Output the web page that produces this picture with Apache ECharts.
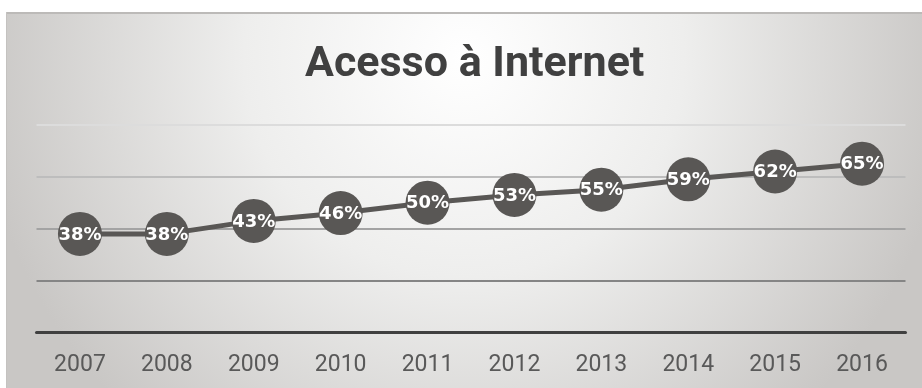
<!DOCTYPE html>
<html>
<head>
<meta charset="utf-8">
<script src="https://cdn.jsdelivr.net/npm/echarts@6/dist/echarts.min.js"></script>
<style>html,body{margin:0;padding:0;background:#fff;}#c{width:922px;height:388px;}</style>
</head>
<body>
<div id="c"></div>
<script>
var titleText = 'Acesso à Internet';
var years = ['2007','2008','2009','2010','2011','2012','2013','2014','2015','2016'];
var access = [38, 38, 43, 46, 50, 53, 55, 59, 62, 65];

var chart = echarts.init(document.getElementById('c'));
chart.setOption({
  animation: false,
  graphic: [
    { type: 'rect', z: -10, shape: { x: 6, y: 12, width: 916, height: 376 },
      style: { fill: { type: 'radial', x: 0.5, y: 0.12, r: 1.3,
        colorStops: [ { offset: 0, color: '#ffffff' }, { offset: 0.45, color: '#eeeeed' }, { offset: 1, color: '#c9c7c5' } ] } } },
    { type: 'rect', z: -9, shape: { x: 6, y: 12, width: 916, height: 2 }, style: { fill: '#bcbab8' } },
    { type: 'rect', z: -9, shape: { x: 6, y: 12, width: 1, height: 376 }, style: { fill: '#c4c2c0' } }
  ],
  title: {
    text: titleText, left: 300, top: 39,
    textStyle: { fontFamily: 'Roboto', fontWeight: 'bold', fontSize: 43, color: '#404040' }
  },
  grid: { left: 36.5, right: 16.5, top: 124.7, bottom: 55.3 },
  xAxis: {
    type: 'category', data: years, boundaryGap: true,
    axisLine: { show: true, lineStyle: { color: '#404040', width: 3 } },
    axisTick: { show: false },
    axisLabel: { margin: 21, fontFamily: 'Roboto', fontSize: 23, color: '#595959' }
  },
  yAxis: {
    type: 'value', min: 0, max: 80, interval: 20,
    axisLine: { show: false }, axisTick: { show: false }, axisLabel: { show: false },
    splitLine: { lineStyle: { width: 2, color: ['#7f7f7f', '#858585', '#a3a3a3', '#bdbdbd', '#dcdcdc'] } }
  },
  series: [{
    type: 'line', data: access,
    symbol: 'circle', symbolSize: 44,
    lineStyle: { color: '#595755', width: 5 },
    itemStyle: { color: '#595755' },
    label: { show: true, position: 'inside', formatter: '{c}%', color: '#ffffff',
      fontFamily: 'DejaVu Sans', fontWeight: 'bold', fontSize: 18, offset: [0, 1] }
  }]
});
</script>
</body>
</html>
